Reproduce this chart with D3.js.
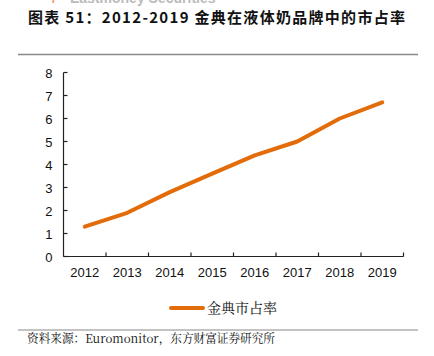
<!DOCTYPE html>
<html><head><meta charset="utf-8">
<script src="https://cdn.jsdelivr.net/npm/d3@7/dist/d3.min.js"></script>
<style>body{margin:0;background:#fff;}svg{display:block;}</style>
</head><body>
<svg id="c" width="434" height="356"></svg>
<script>
const years = ["2012","2013","2014","2015","2016","2017","2018","2019"];
const share = [1.3, 1.9, 2.8, 3.6, 4.4, 5.0, 6.0, 6.7];
const yTicks = [0,1,2,3,4,5,6,7,8];
const seriesName = "金典市占率";
const title = "图表 51：2012-2019 金典在液体奶品牌中的市占率";
const source = "资料来源：Euromonitor，东方财富证券研究所";

const svg = d3.select("#c");
const cjk = "'Noto Sans CJK SC', sans-serif";
const serif = "'Noto Serif CJK SC','Noto Sans CJK SC', serif";
const orange = "#E36C0A";

// cropped header remnant (cut at the top edge as in the reference)
svg.append("text").attr("x", 70).attr("y", 3).attr("font-family", "Liberation Sans, Arial").attr("font-weight", "bold")
  .attr("font-size", 14).attr("fill", "#bbb").text("Eastmoney Securities");
svg.append("text").attr("x", 52).attr("y", 3).attr("font-family", "Liberation Sans, Arial").attr("font-weight", "bold")
  .attr("font-size", 14).attr("fill", "#f0a070").text("/");

svg.append("text").attr("x", 28).attr("y", 23).attr("font-family", cjk).attr("font-weight", "bold")
  .attr("font-size", 15).attr("fill", "#111").attr("textLength", 377).attr("lengthAdjust", "spacing").text(title);

svg.append("line").attr("x1", 18).attr("x2", 418).attr("y1", 54.5).attr("y2", 54.5).attr("stroke", "#888").attr("stroke-width", 1.5);
svg.append("line").attr("x1", 18).attr("x2", 418).attr("y1", 330).attr("y2", 330).attr("stroke", "#888").attr("stroke-width", 1.2);

const x = d3.scaleBand().domain(years).range([63.5, 403.5]);
const y = d3.scaleLinear().domain([0, 8]).range([256.5, 72.5]);

const gx = svg.append("g").attr("transform", "translate(0,256.5)");
gx.append("line").attr("x1", 63.5).attr("x2", 403.5).attr("stroke", "#222").attr("stroke-width", 1.2);
gx.selectAll("line.t").data(years.slice(1).map(d => x(d)).concat([403.5])).join("line").attr("class", "t")
  .attr("x1", d => d).attr("x2", d => d).attr("y1", 0).attr("y2", -4).attr("stroke", "#222").attr("stroke-width", 1.2);
gx.selectAll("text").data(years).join("text").attr("x", d => x(d) + x.bandwidth() / 2).attr("y", 20)
  .attr("text-anchor", "middle").attr("font-family", "Liberation Sans, Arial").attr("font-size", 13).attr("fill", "#111").text(d => d);

const gy = svg.append("g").attr("transform", "translate(63.5,0)");
gy.append("line").attr("y1", y(8)).attr("y2", y(0)).attr("stroke", "#222").attr("stroke-width", 1.2);
gy.selectAll("line.t").data(yTicks).join("line").attr("class", "t")
  .attr("x1", 0).attr("x2", 4).attr("y1", d => y(d)).attr("y2", d => y(d)).attr("stroke", "#222").attr("stroke-width", 1.2);
gy.selectAll("text").data(yTicks).join("text").attr("x", -11).attr("y", d => y(d) + 5)
  .attr("text-anchor", "end").attr("font-family", "Liberation Sans, Arial").attr("font-size", 13).attr("fill", "#111").text(d => d);

const line = d3.line().x((d, i) => x(years[i]) + x.bandwidth() / 2).y(d => y(d));
svg.append("path").datum(share).attr("d", line).attr("fill", "none").attr("stroke", orange)
  .attr("stroke-width", 4).attr("stroke-linejoin", "round").attr("stroke-linecap", "round");

svg.append("line").attr("x1", 171).attr("x2", 203).attr("y1", 308).attr("y2", 308).attr("stroke", orange).attr("stroke-width", 4).attr("stroke-linecap", "round");
svg.append("text").attr("x", 207).attr("y", 313).attr("font-family", serif).attr("font-size", 14).attr("fill", "#111")
  .attr("textLength", 70).attr("lengthAdjust", "spacing").text(seriesName);

svg.append("text").attr("x", 27).attr("y", 343).attr("font-family", serif).attr("font-size", 12).attr("fill", "#111")
  .attr("textLength", 248).attr("lengthAdjust", "spacingAndGlyphs").text(source);
</script>
</body></html>
